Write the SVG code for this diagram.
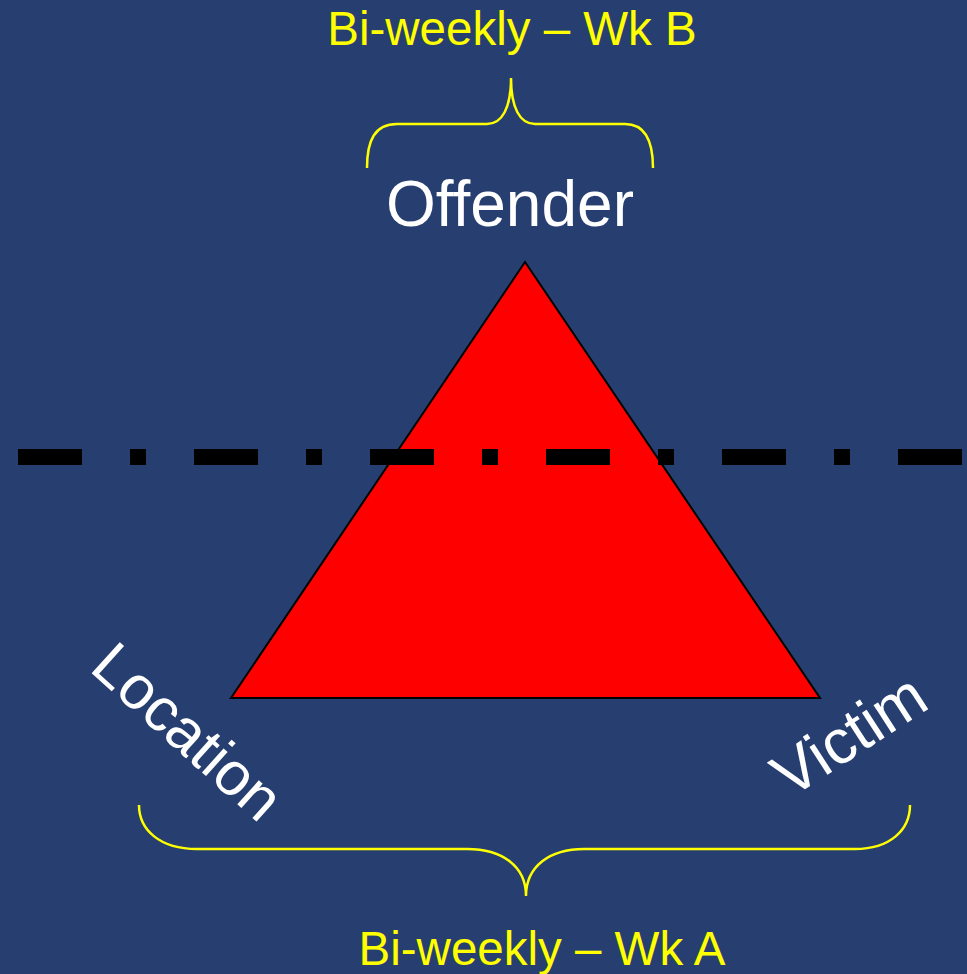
<svg xmlns="http://www.w3.org/2000/svg" width="967" height="974" viewBox="0 0 967 974">
<style>
.lbl{font-family:"Liberation Sans",Arial,sans-serif;fill:#ffffff;font-size:61px}
.ylw{font-family:"Liberation Sans",Arial,sans-serif;fill:#ffff00;font-size:47.5px;text-anchor:middle}
.brace{fill:none;stroke:#ffff00;stroke-width:2.5}
</style>
<rect width="967" height="974" fill="#263F70"/>
<g id="triangle">
<polygon points="525,262 231,698 820,698" fill="#ff0000" stroke="#000000" stroke-width="2"/>
</g>
<g id="divider">
<line x1="18" y1="457" x2="967" y2="457" stroke="#000000" stroke-width="16" stroke-dasharray="64 48 16 48"/>
</g>
<g id="offender"><text class="lbl" x="510" y="226" text-anchor="middle" style="font-size:64px">Offender</text></g>
<g id="location"><text class="lbl" x="88" y="670" transform="rotate(42 88 670)">Location</text></g>
<g id="victim"><text class="lbl" x="790" y="799" transform="rotate(-33 790 799)" style="font-size:62.5px">Victim</text></g>
<g id="connectors">
<path class="brace" d="M367,168 C367,140 375,124 397,124 L487,124 C502,124 511,108 511,78 C511,108 520,124 535,124 L625,124 C645,124 653,140 653,168"/>
<path class="brace" d="M139,805 C139,830 160,849 197,849 L467,849 C502,849 526,866 526,896 C526,866 550,849 584,849 L855,849 C890,849 910,830 910,805"/>
</g>
<g id="weekB"><text class="ylw" x="512" y="45">Bi-weekly – Wk B</text></g>
<g id="weekA"><text class="ylw" x="542" y="965">Bi-weekly – Wk A</text></g>
</svg>
